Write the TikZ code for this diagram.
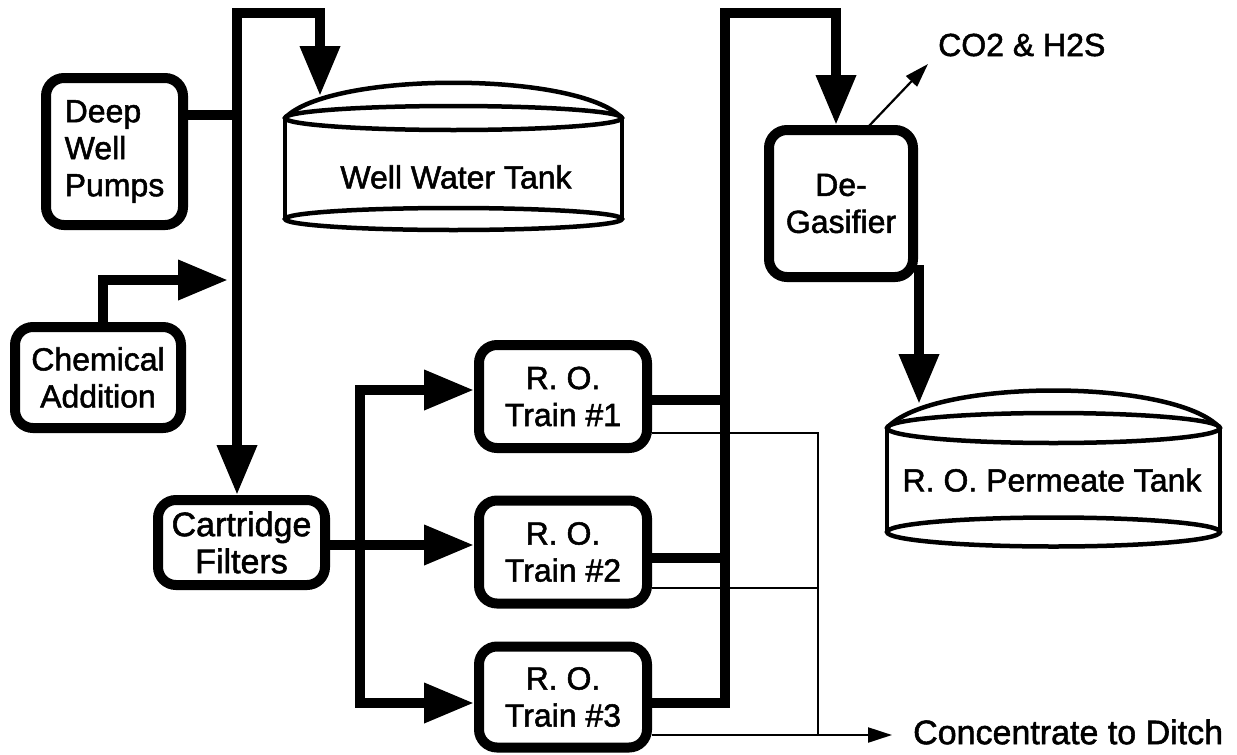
\documentclass[tikz,border=0pt]{standalone}
\usepackage{fontspec}
\newfontfamily\lbl{Liberation Sans}[FakeBold=1.6]
\usetikzlibrary{arrows.meta}
\newcommand\lblfont{\lbl\fontsize{32}{37}\selectfont}
\newcommand\lblbig{\lbl\fontsize{34}{37}\selectfont}
\tikzset{
  box/.style={draw, line width=10pt, rounded corners=18pt, font=\lblfont, align=center, inner sep=0pt},
  pipe/.style={line width=10pt},
  thinline/.style={line width=2.2pt},
  bighead/.style={-{Triangle[length=50pt,width=38pt]}},
  smallhead/.style={-{Triangle[length=24pt,width=15pt]}},
  tankline/.style={line width=4.5pt},
  lbl/.style={font=\lblfont, inner sep=0pt},
}
\begin{document}
\begin{tikzpicture}[x=1pt,y=-1pt]
\useasboundingbox (0,0) rectangle (1237,755);
% boxes
\node[box, align=left, minimum width=137pt, minimum height=147pt] (deep) at (114.5,151.5) {Deep\\Well\\Pumps};
\node[box, minimum width=166pt, minimum height=101pt] (chem) at (98,377.5) {Chemical\\Addition};
\node[box, font=\lblbig, minimum width=167pt, minimum height=85pt] (cart) at (241.5,542.5) {Cartridge\\Filters};
\node[box, minimum width=168pt, minimum height=103pt] (ro1) at (563,396.5) {R. O.\\Train \#1};
\node[box, minimum width=168pt, minimum height=103pt] (ro2) at (563,552) {R. O.\\Train \#2};
\node[box, minimum width=168pt, minimum height=101pt] (ro3) at (563,697) {R. O.\\Train \#3};
\node[box, minimum width=144pt, minimum height=147pt] (degas) at (841,203.5) {De-\\Gasifier};
% well water tank
\draw[tankline] (285,118) .. controls (330,71) and (577,71) .. (622,118);
\draw[tankline] (453.5,118) ellipse [x radius=168.5, y radius=12];
\draw[tankline] (285,118) -- (285,219) (622,118) -- (622,219);
\draw[tankline] (453.5,219) ellipse [x radius=168.5, y radius=11];
\node[lbl] (wwt) at (456,177) {Well Water Tank};
% RO permeate tank
\draw[tankline] (887,428) .. controls (932,378) and (1175,378) .. (1220,428);
\draw[tankline] (1053.5,428) ellipse [x radius=166.5, y radius=15];
\draw[tankline] (887,428) -- (887,532) (1220,428) -- (1220,532);
\draw[tankline] (1053.5,532) ellipse [x radius=166.5, y radius=14.5];
\node[lbl] (rpt) at (1052,480) {R. O. Permeate Tank};
% coordinates
\coordinate (p1top) at (237,13);
\coordinate (p1turn) at (320,13);
\coordinate (wwtin) at (320,96);
\coordinate (j1) at (237,115);
\coordinate (chemturn) at (103,280);
\coordinate (chemtip) at (228,280);
\coordinate (d2) at (360,545);
\coordinate (d1) at (360,390);
\coordinate (d3) at (360,703);
\coordinate (c1) at (725,400);
\coordinate (c2) at (725,558);
\coordinate (c3) at (725,703);
\coordinate (ctop) at (725,13);
\coordinate (cturn) at (836,13);
\coordinate (dgout) at (919,265);
\coordinate (rptin) at (919,404);
\coordinate (co2s) at (868,127);
\coordinate (co2e) at (928,64);
\coordinate (k1) at (818,433);
\coordinate (k2) at (818,588);
\coordinate (k3) at (818,735);
\coordinate (ditch) at (892,735);
% pipes
\draw[pipe] (deep.east |- j1) -- (j1);
\draw[pipe,bighead] (j1) -- (p1top) -- (p1turn) -- (wwtin);
\draw[pipe,bighead] (j1) -- (j1 |- cart.north);
\draw[pipe,bighead] (chem.north -| chemturn) -- (chemturn) -- (chemtip);
\draw[pipe,bighead] (cart.east |- d2) -- (d2 -| ro2.west);
\draw[pipe,bighead] (d2) -- (d1) -- (d1 -| ro1.west);
\draw[pipe,bighead] (d2) -- (d3) -- (d3 -| ro3.west);
\draw[pipe] (ro1.east |- c1) -- (c1);
\draw[pipe] (ro2.east |- c2) -- (c2);
\draw[pipe,bighead] (ro3.east |- c3) -- (c3) -- (ctop) -- (cturn) -- (cturn |- degas.north);
\draw[pipe,bighead] (dgout) -- (rptin);
\draw[thinline,smallhead] (co2s) -- (co2e);
\draw[thinline] (ro1.east |- k1) -- (k1) -- (k3);
\draw[thinline] (ro2.east |- k2) -- (k2);
\draw[thinline,smallhead] (ro3.east |- k3) -- (ditch);
\node[lbl,font=\lblbig,anchor=west] (ditchlbl) at (913,732) {Concentrate to Ditch};
\node[lbl,anchor=west] (co2lbl) at (938,45) {CO2 \& H2S};
\end{tikzpicture}
\end{document}
